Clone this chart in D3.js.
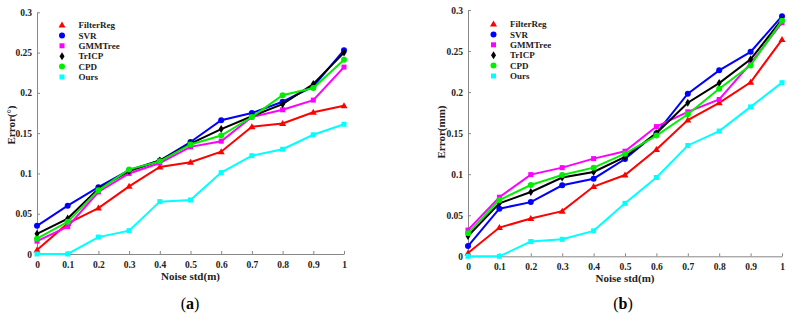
<!DOCTYPE html>
<html>
<head>
<meta charset="utf-8">
<script src="https://cdn.jsdelivr.net/npm/d3@7"></script>
<style>
  body { margin: 0; background: #fff; }
  svg text { font-family: "Liberation Serif", "Times New Roman", serif; }
</style>
</head>
<body>
<svg id="chart" width="792" height="318"></svg>
<script>
// noise levels on the x axis
const noise = [0, 0.1, 0.2, 0.3, 0.4, 0.5, 0.6, 0.7, 0.8, 0.9, 1];
const methods = ["FilterReg", "SVR", "GMMTree", "TrICP", "CPD", "Ours"];
const colors = ["#ff0000", "#0000ff", "#ff00ff", "#000000", "#00ee00", "#00ffff"];
const shapes = ["triangle", "circle", "square", "diamond", "circle", "square"];
const yTicks = [0, 0.05, 0.1, 0.15, 0.2, 0.25, 0.3];
const xTicks = [0, 0.1, 0.2, 0.3, 0.4, 0.5, 0.6, 0.7, 0.8, 0.9, 1];

// (a) rotation error
const rotFilterReg = [0.005, 0.038, 0.057, 0.084, 0.108, 0.114, 0.127, 0.158, 0.162, 0.176, 0.184];
const rotSVR       = [0.035, 0.060, 0.083, 0.104, 0.116, 0.139, 0.166, 0.175, 0.189, 0.208, 0.253];
const rotGMMTree   = [0.016, 0.034, 0.077, 0.100, 0.113, 0.133, 0.140, 0.170, 0.179, 0.191, 0.232];
const rotTrICP     = [0.025, 0.044, 0.081, 0.103, 0.116, 0.137, 0.155, 0.171, 0.186, 0.211, 0.250];
const rotCPD       = [0.019, 0.040, 0.079, 0.105, 0.115, 0.136, 0.147, 0.170, 0.197, 0.206, 0.241];
const rotOurs      = [0, 0, 0.021, 0.029, 0.065, 0.067, 0.101, 0.122, 0.130, 0.148, 0.161];

// (b) translation error
const trFilterReg = [0.004, 0.035, 0.046, 0.055, 0.085, 0.099, 0.130, 0.166, 0.187, 0.212, 0.264];
const trSVR       = [0.0125, 0.058, 0.066, 0.0865, 0.0945, 0.1185, 0.150, 0.198, 0.2265, 0.249, 0.2925];
const trGMMTree   = [0.032, 0.072, 0.0995, 0.108, 0.119, 0.128, 0.158, 0.176, 0.191, 0.235, 0.2845];
const trTrICP     = [0.0247, 0.0645, 0.0783, 0.096, 0.1027, 0.121, 0.150, 0.187, 0.211, 0.240, 0.2885];
const trCPD       = [0.028, 0.0686, 0.0868, 0.099, 0.108, 0.125, 0.147, 0.173, 0.204, 0.2325, 0.287];
const trOurs      = [0, 0, 0.018, 0.0207, 0.031, 0.0645, 0.096, 0.135, 0.1525, 0.182, 0.2115];

const svg = d3.select("#chart");

function drawMarker(g, shape, color, x, y) {
  if (shape === "circle") {
    g.append("circle").attr("cx", x).attr("cy", y).attr("r", 3).attr("fill", color);
  } else if (shape === "square") {
    g.append("rect").attr("x", x - 2.5).attr("y", y - 2.5).attr("width", 5).attr("height", 5).attr("fill", color);
  } else if (shape === "triangle") {
    g.append("path").attr("d", `M${x},${y - 3.5}L${x + 3.5},${y + 2.5}L${x - 3.5},${y + 2.5}Z`).attr("fill", color);
  } else {
    g.append("path").attr("d", `M${x},${y - 4}L${x + 2.5},${y}L${x},${y + 4}L${x - 2.5},${y}Z`).attr("fill", color);
  }
}

function panel(cfg) {
  const g = svg.append("g");
  const x = d3.scaleLinear().domain([0, 1]).range([cfg.x0, cfg.x1]);
  const y = d3.scaleLinear().domain([0, 0.3]).range([cfg.y0, cfg.y1]);

  // axes (ticks pointing inward)
  const xAxis = g.append("g").attr("transform", `translate(0,${cfg.y0})`)
    .call(d3.axisBottom(x).tickValues(xTicks).tickFormat(d => d3.format("")(+d.toFixed(1))).tickSizeInner(-3).tickSizeOuter(0).tickPadding(7));
  const yAxis = g.append("g").attr("transform", `translate(${cfg.x0},0)`)
    .call(d3.axisLeft(y).tickValues(yTicks).tickFormat(d => d3.format("")(+d.toFixed(2))).tickSizeInner(-3).tickSizeOuter(0).tickPadding(5));
  [xAxis, yAxis].forEach(a => {
    a.select(".domain").attr("stroke", "#888");
    a.selectAll(".tick line").attr("stroke", "#888");
    a.selectAll(".tick text").attr("font-size", 9.5).attr("font-weight", "bold").attr("fill", "#222")
      .style("font-family", "Liberation Serif");
  });

  const line = d3.line().x((d, i) => x(noise[i])).y(d => y(d));
  cfg.series.forEach((vals, k) => {
    g.append("path").datum(vals).attr("d", line)
      .attr("fill", "none").attr("stroke", colors[k]).attr("stroke-width", 2);
    vals.forEach((v, i) => drawMarker(g, shapes[k], colors[k], x(noise[i]), y(v)));
  });

  // legend
  methods.forEach((m, k) => {
    const ly = cfg.legY + k * 10.4;
    drawMarker(g, shapes[k], colors[k], cfg.legX, ly);
    g.append("text").attr("x", cfg.legX + 16.5).attr("y", ly).attr("dy", "0.35em")
      .attr("font-size", 9).attr("font-weight", "bold").attr("fill", "#222").text(m);
  });

  g.append("text").attr("x", (cfg.x0 + cfg.x1) / 2).attr("y", cfg.y0 + 26)
    .attr("text-anchor", "middle").attr("font-size", 11).attr("font-weight", "bold").attr("fill", "#222")
    .text("Noise std(m)");
  g.append("text").attr("transform", `translate(${cfg.yLabX},${cfg.yLabY}) rotate(-90)`)
    .attr("text-anchor", "middle").attr("font-size", 11).attr("font-weight", "bold").attr("fill", "#222")
    .text(cfg.yLabel);

  const cap = g.append("text").attr("x", cfg.capX).attr("y", 309)
    .attr("text-anchor", "middle").attr("font-size", 16).attr("fill", "#000");
  cap.append("tspan").text("(");
  cap.append("tspan").attr("font-weight", "bold").text(cfg.cap);
  cap.append("tspan").text(")");
}

panel({
  x0: 37, x1: 344, y0: 254, y1: 12.3,
  series: [rotFilterReg, rotSVR, rotGMMTree, rotTrICP, rotCPD, rotOurs],
  legX: 62, legY: 25, yLabel: "Error(°)", yLabX: 15, yLabY: 125,
  capX: 190, cap: "a"
});
panel({
  x0: 468, x1: 782, y0: 256.3, y1: 10,
  series: [trFilterReg, trSVR, trGMMTree, trTrICP, trCPD, trOurs],
  legX: 493.5, legY: 24, yLabel: "Error(mm)", yLabX: 445, yLabY: 132,
  capX: 623, cap: "b"
});
</script>
</body>
</html>
